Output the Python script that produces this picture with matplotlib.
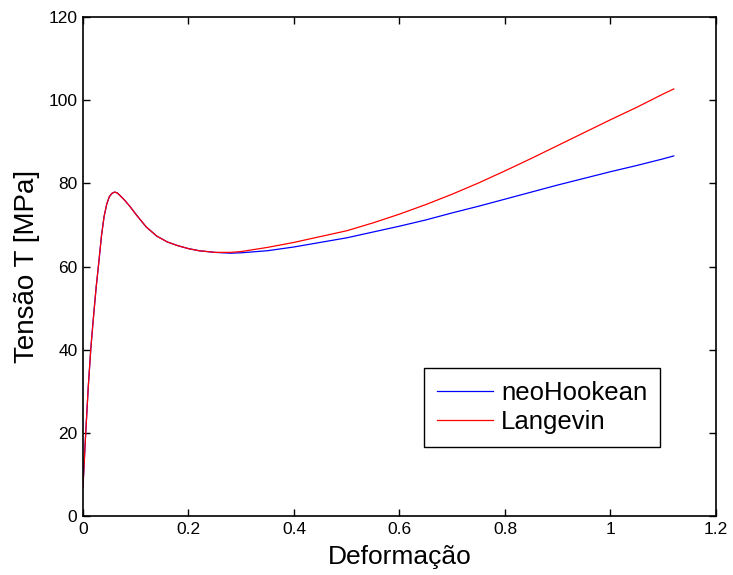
import matplotlib
matplotlib.use("Agg")
import matplotlib.pyplot as plt

plt.rcParams["font.family"] = ["Liberation Sans", "DejaVu Sans"]

# deformation grid (shared by both models)
deformacao = [0.0, 0.005, 0.01, 0.015, 0.02, 0.025, 0.03, 0.035, 0.04, 0.045,
              0.05, 0.055, 0.06, 0.065, 0.07, 0.08, 0.09, 0.10, 0.12, 0.14,
              0.16, 0.18, 0.20, 0.22, 0.25, 0.28, 0.30, 0.35, 0.40, 0.45,
              0.50, 0.55, 0.60, 0.65, 0.70, 0.75, 0.80, 0.85, 0.90, 0.95,
              1.00, 1.05, 1.10, 1.12]

# stress in MPa
tensao_neo = [7.0, 19.5, 31.0, 40.5, 48.0, 55.0, 61.0, 67.3, 72.0, 75.0,
              76.8, 77.6, 77.9, 77.7, 77.1, 75.8, 74.3, 72.6, 69.5, 67.3,
              65.9, 65.0, 64.3, 63.8, 63.4, 63.2, 63.3, 63.8, 64.7, 65.8,
              66.9, 68.3, 69.7, 71.2, 72.9, 74.5, 76.2, 77.9, 79.6, 81.2,
              82.8, 84.3, 85.9, 86.6]
tensao_lang = [7.0, 19.5, 31.0, 40.5, 48.0, 55.0, 61.0, 67.3, 72.0, 75.0,
               76.8, 77.6, 77.9, 77.7, 77.1, 75.8, 74.3, 72.6, 69.5, 67.3,
               65.9, 65.0, 64.3, 63.8, 63.4, 63.4, 63.6, 64.6, 65.8, 67.2,
               68.6, 70.5, 72.6, 74.9, 77.4, 80.1, 83.0, 86.0, 89.1, 92.2,
               95.3, 98.3, 101.5, 102.7]

x_ticks = [0, 0.2, 0.4, 0.6, 0.8, 1, 1.2]
x_ticklabels = ["0", "0.2", "0.4", "0.6", "0.8", "1", "1.2"]
y_ticks = [0, 20, 40, 60, 80, 100, 120]

fig = plt.figure(figsize=(7.33, 5.75), dpi=100)
ax = fig.add_axes([0.1132, 0.1026, 0.8636, 0.8678])

ax.plot(deformacao, tensao_neo, color="#0000ff", lw=0.9, label="neoHookean")
ax.plot(deformacao, tensao_lang, color="#ff0000", lw=0.9, label="Langevin")

ax.set_xlim(0, 1.2)
ax.set_ylim(0, 120)
ax.set_xticks(x_ticks)
ax.set_xticklabels(x_ticklabels)
ax.set_yticks(y_ticks)
ax.tick_params(direction="in", length=5, width=1, top=True, right=True,
               labelsize=12.5, pad=4)
for sp in ax.spines.values():
    sp.set_linewidth(1.2)

ax.set_xlabel("Deformação", fontsize=19, labelpad=6)
ax.set_ylabel("Tensão T [MPa]", fontsize=20, labelpad=6)

leg = ax.legend(loc="lower left", bbox_to_anchor=(0.5387, 0.138),
                borderaxespad=0, fontsize=18.5, handlelength=2.2,
                handletextpad=0.3, labelspacing=0.22, borderpad=0.5,
                fancybox=False, framealpha=1)
leg.get_frame().set_edgecolor("black")
leg.get_frame().set_linewidth(1.0)

fig.savefig("out.png", dpi=100)
